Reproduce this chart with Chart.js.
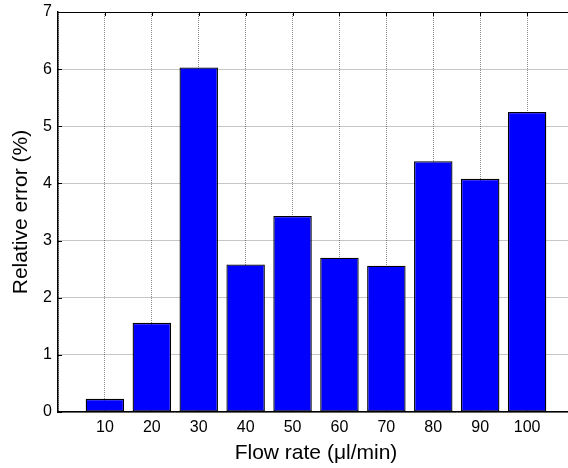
<!DOCTYPE html>
<html>
<head>
<meta charset="utf-8">
<script src="https://cdn.jsdelivr.net/npm/chart.js@4/dist/chart.umd.min.js"></script>
<style>
  html, body { margin: 0; padding: 0; background: #fff; overflow: hidden; }
  #wrap { width: 590px; height: 468px; }
</style>
</head>
<body>
<div id="wrap"><canvas id="c" width="590" height="468"></canvas></div>
<script>
// flow rate (µl/min) vs relative error (%)
var flowRates = [10, 20, 30, 40, 50, 60, 70, 80, 90, 100];
var relErrors = [0.23, 1.56, 6.03, 2.58, 3.43, 2.70, 2.56, 4.39, 4.08, 5.25];
var yTicks = [0, 1, 2, 3, 4, 5, 6, 7];

var FONT = 'Liberation Sans, Arial, sans-serif';

// matlab style frame: top line + small inward ticks
var frame = {
  id: 'frame',
  afterDraw: function(chart) {
    var ctx = chart.ctx, a = chart.chartArea;
    var xs = chart.scales.x, ys = chart.scales.y;
    ctx.save();
    ctx.strokeStyle = '#000';
    ctx.lineWidth = 1;
    ctx.beginPath();
    ctx.moveTo(a.left, a.top + 0.5);
    ctx.lineTo(a.right, a.top + 0.5);
    flowRates.forEach(function(v) {
      var px = Math.round(xs.getPixelForValue(v)) + 0.5;
      ctx.moveTo(px, a.top);
      ctx.lineTo(px, a.top + 4);
    });
    yTicks.forEach(function(v) {
      var py = Math.round(ys.getPixelForValue(v)) + 0.5;
      ctx.moveTo(a.left, py);
      ctx.lineTo(a.left + 4, py);
    });
    ctx.stroke();
    ctx.restore();
  }
};

new Chart(document.getElementById('c'), {
  type: 'bar',
  data: {
    datasets: [{
      data: flowRates.map(function(x, i) { return {x: x, y: relErrors[i]}; }),
      backgroundColor: '#0000ff',
      borderColor: '#000',
      borderWidth: 1.3,
      borderSkipped: false,
      categoryPercentage: 1,
      barPercentage: 0.82
    }]
  },
  options: {
    responsive: false,
    animation: false,
    layout: { padding: { left: 0, top: 12, right: 16, bottom: 0 } },
    plugins: { legend: { display: false }, tooltip: { enabled: false } },
    scales: {
      x: {
        type: 'linear',
        offset: false,
        min: 0, max: 110,
        afterFit: function(s) { s.height = 56; s.paddingLeft = 0; s.paddingRight = 0; },
        ticks: {
          stepSize: 10,
          color: '#000',
          padding: 6,
          maxRotation: 0,
          autoSkip: false,
          font: { family: FONT, size: 16 },
          callback: function(v) { return (v === 0 || v === 110) ? '' : v; }
        },
        grid: { color: 'rgba(0,0,0,0.45)', drawTicks: false, lineWidth: 1, offset: false },
        border: { color: '#000', width: 1.5, dash: [1, 1] },
        title: {
          display: true,
          text: 'Flow rate (\u03bcl/min)',
          color: '#000',
          font: { family: FONT, size: 21 },
          padding: { top: 0, bottom: 2 }
        }
      },
      y: {
        min: 0, max: 7,
        afterFit: function(s) { s.width = 58; s.paddingTop = 0; s.paddingBottom = 0; },
        ticks: {
          stepSize: 1,
          color: '#000',
          padding: 6,
          font: { family: FONT, size: 16 }
        },
        grid: { color: 'rgba(0,0,0,0.45)', drawTicks: false, lineWidth: 1 },
        border: { color: '#000', width: 1.5, dash: [1, 1] },
        title: {
          display: true,
          text: 'Relative error (%)',
          color: '#000',
          font: { family: FONT, size: 21 },
          padding: { top: 9, bottom: 0 }
        }
      }
    }
  },
  plugins: [frame]
});
</script>
</body>
</html>
